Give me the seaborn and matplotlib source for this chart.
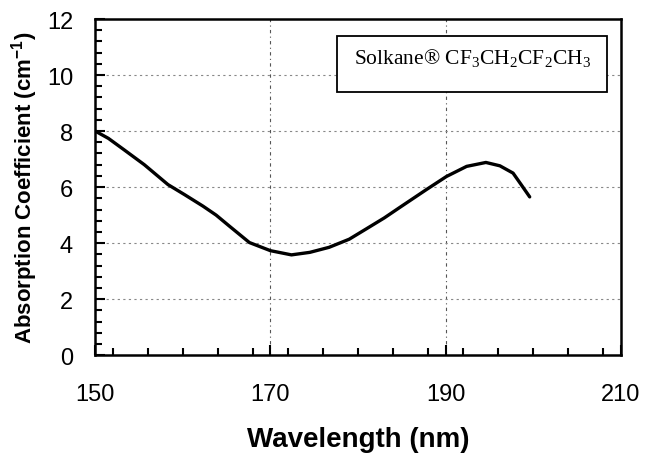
import pandas as pd
import matplotlib
matplotlib.use('Agg')
from matplotlib import pyplot as plt
from matplotlib.patches import Rectangle
from matplotlib.ticker import MultipleLocator
import seaborn as sns

# curve
wavelength = [150, 151.5, 153.3, 155.6, 158.3, 160.2, 162.3, 163.8, 165.3, 167.6,
              170.0, 172.4, 174.5, 176.7, 179.0, 180.9, 183.0, 184.7, 187.8, 190.1,
              192.4, 194.6, 196.2, 197.7, 198.6, 199.6]
absorption = [8.0, 7.74, 7.33, 6.80, 6.09, 5.73, 5.32, 5.0, 4.61, 4.02,
              3.73, 3.58, 3.67, 3.85, 4.14, 4.50, 4.9, 5.26, 5.91, 6.38,
              6.74, 6.88, 6.76, 6.50, 6.1, 5.65]
x_ticks = [150, 170, 190, 210]
y_ticks = [0, 2, 4, 6, 8, 10, 12]
label_text = r'Solkane® CF$_3$CH$_2$CF$_2$CH$_3$'

df = pd.DataFrame({'wl': wavelength, 'abs': absorption})

sns.set_style('white')
plt.rcParams['font.family'] = ['Liberation Sans', 'DejaVu Sans']
plt.rcParams['mathtext.default'] = 'regular'
plt.rcParams['text.color'] = 'black'
plt.rcParams['axes.labelcolor'] = 'black'
plt.rcParams['xtick.color'] = 'black'
plt.rcParams['ytick.color'] = 'black'

fig = plt.figure(figsize=(6.48, 4.56), dpi=100)
ax = fig.add_axes([0.147, 0.219, 0.811, 0.737])

sns.lineplot(data=df, x='wl', y='abs', ax=ax, color='black', linewidth=2.4)

ax.set_xlim(150, 210)
ax.set_ylim(0, 12)
ax.set_xticks(x_ticks)
ax.set_yticks(y_ticks)
ax.xaxis.set_minor_locator(MultipleLocator(4))
ax.yaxis.set_minor_locator(MultipleLocator(0.4))
ax.tick_params(which='both', direction='in', bottom=True, left=True,
               color='black', width=1.5)
ax.tick_params(which='major', length=7, labelsize=17)
ax.tick_params(which='minor', length=5)
ax.tick_params(axis='x', which='major', pad=20)
ax.tick_params(axis='y', which='major', pad=16)

for v in [170, 190]:
    ax.axvline(v, color='#555555', linestyle=(0, (3, 3, 1, 3)), linewidth=0.8, zorder=0)
for h in [2, 4, 6, 8, 10]:
    ax.axhline(h, color='#888888', linestyle=(0, (2, 3)), linewidth=0.8, zorder=0)

for s in ax.spines.values():
    s.set_color('black')
    s.set_linewidth(1.8)

ax.set_xlabel('Wavelength (nm)', fontsize=20, fontweight='bold', labelpad=15)
ax.set_ylabel(r'Absorption Coefficient (cm$^{-1}$)', fontsize=16, fontweight='bold', labelpad=5)

box = Rectangle((0.46, 0.783), 0.513, 0.167, transform=ax.transAxes,
                facecolor='white', edgecolor='black', linewidth=1.3, zorder=3)
ax.add_patch(box)
ax.text(0.493, 0.887, label_text, transform=ax.transAxes, fontsize=15.5,
        family=['Liberation Serif', 'DejaVu Serif'], va='center', ha='left', zorder=4)

fig.savefig('out.png', dpi=100)
